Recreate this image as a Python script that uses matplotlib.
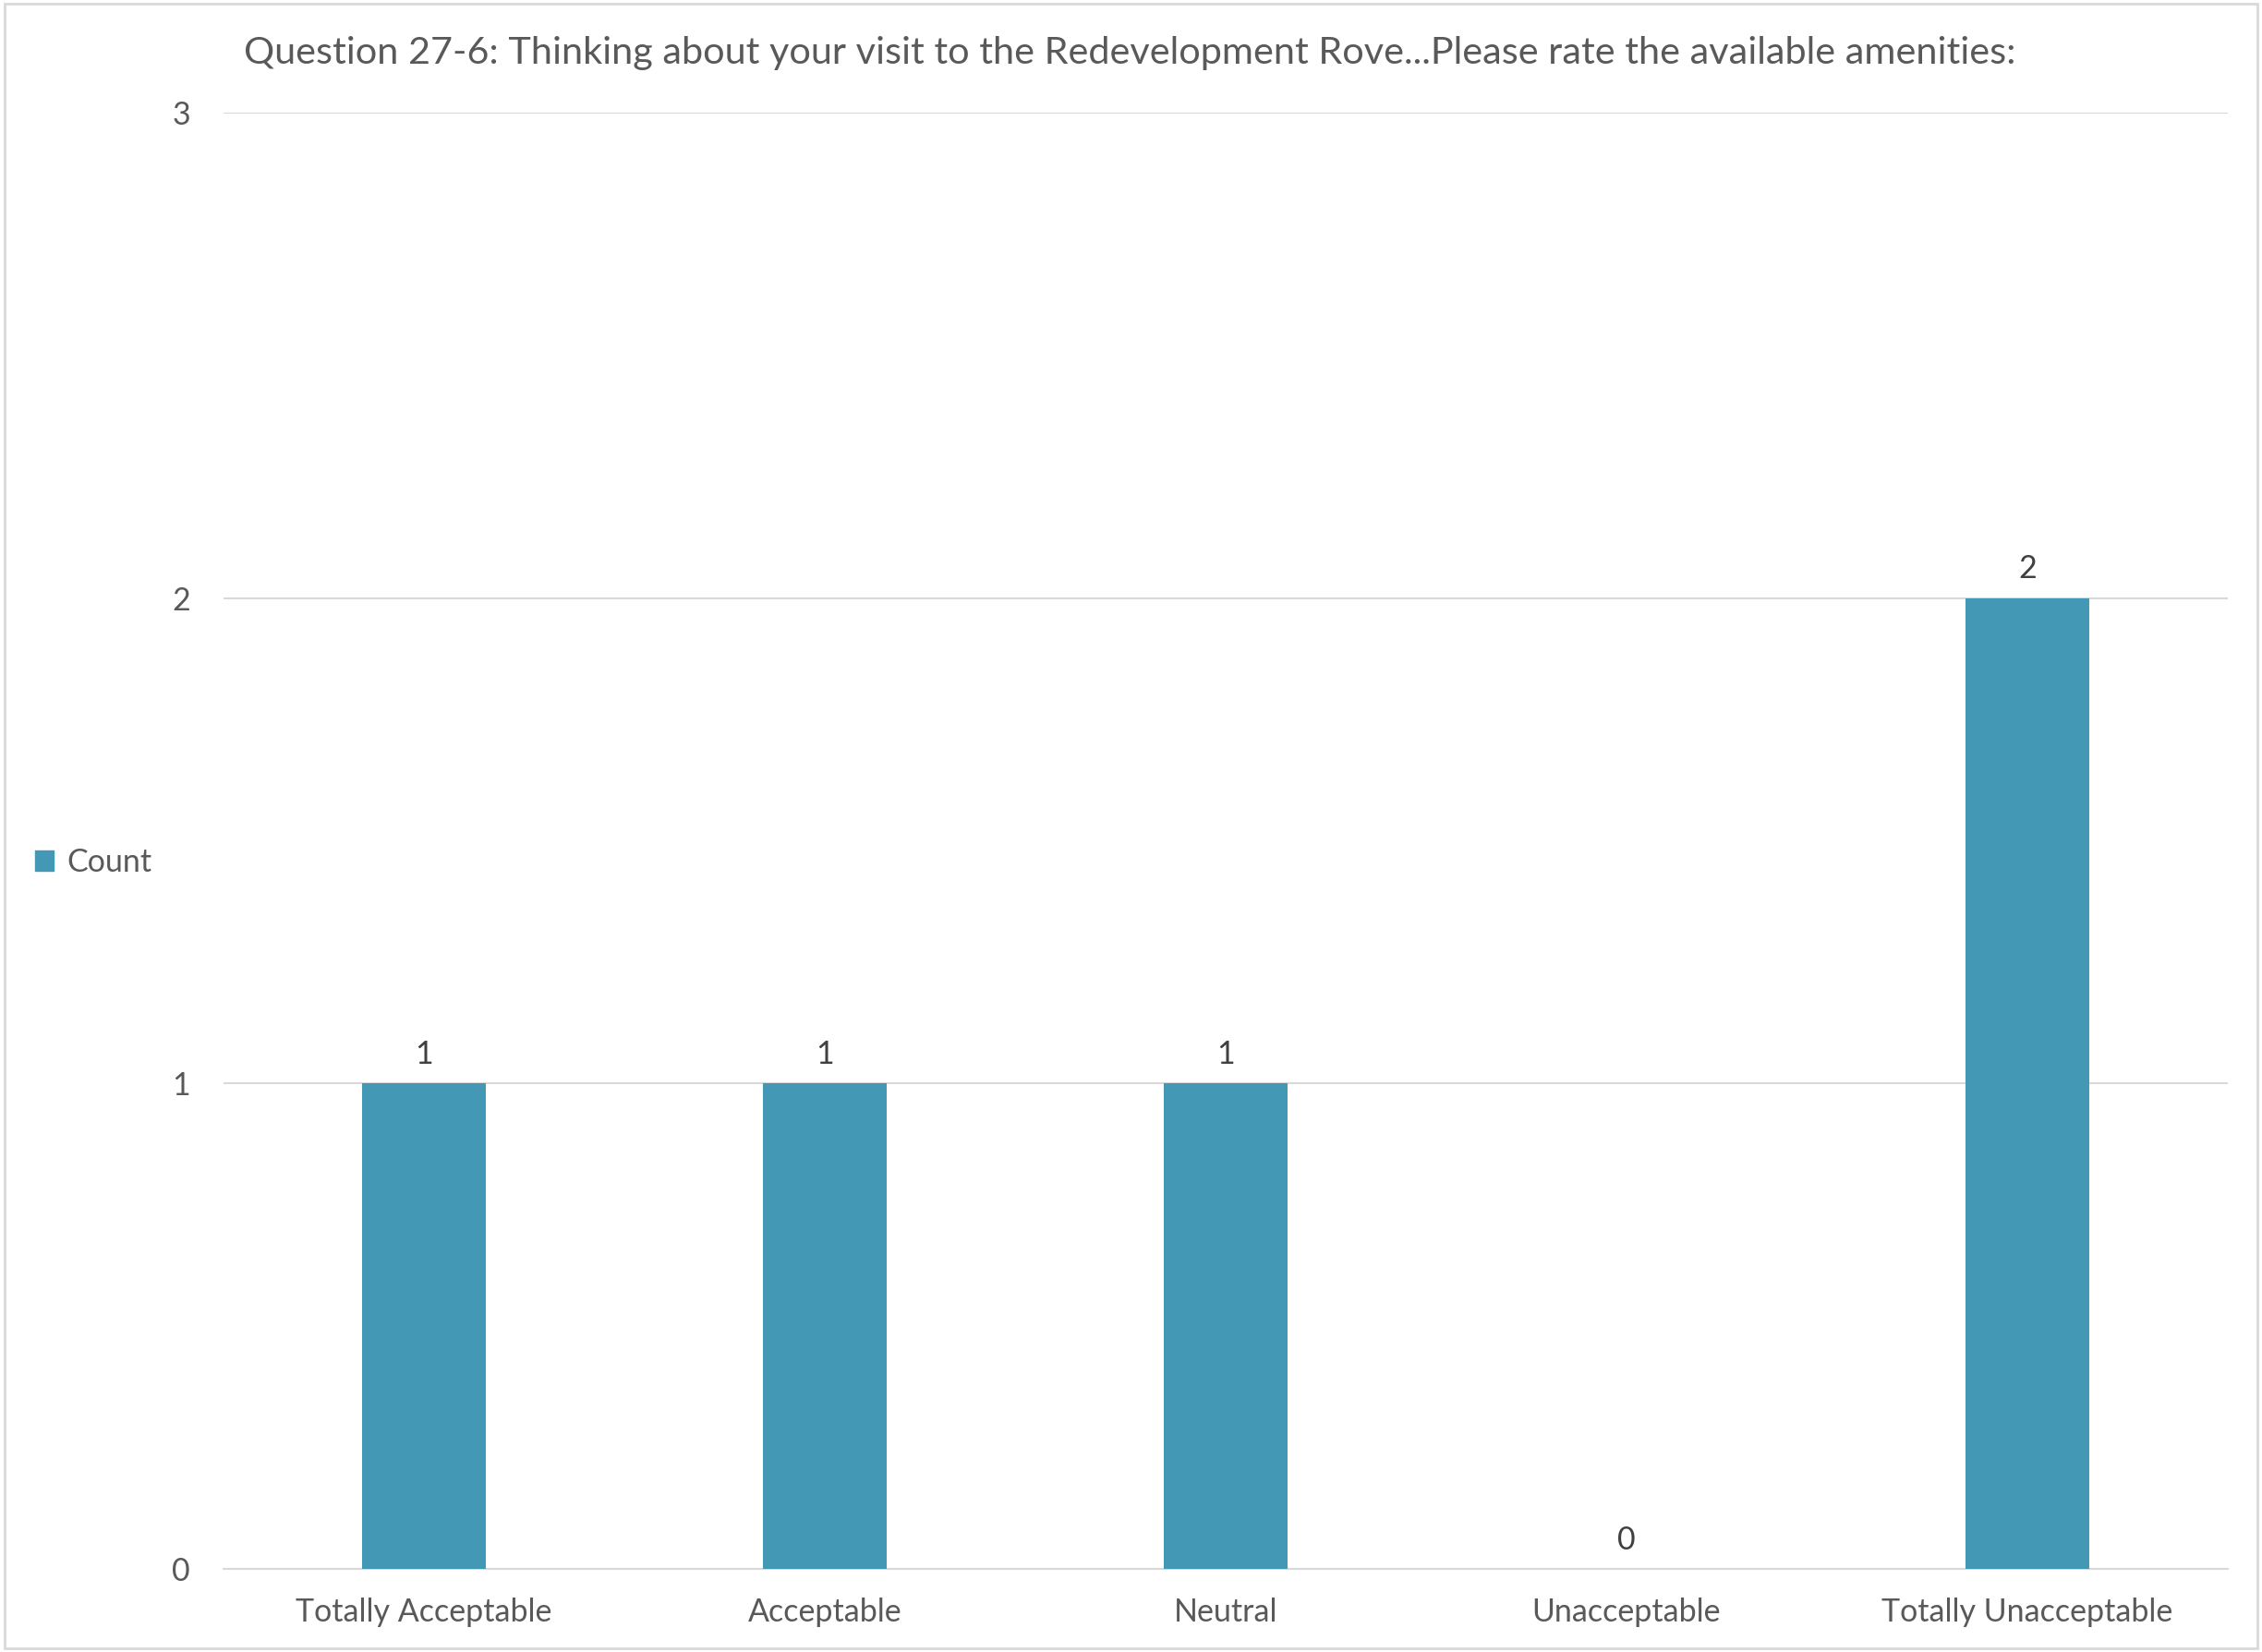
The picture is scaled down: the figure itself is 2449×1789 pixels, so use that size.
import matplotlib
matplotlib.use("Agg")
import matplotlib.pyplot as plt
from matplotlib.patches import Rectangle, Patch

# data
categories = ["Totally Acceptable", "Acceptable", "Neutral", "Unacceptable", "Totally Unacceptable"]
counts = [1, 1, 1, 0, 2]
y_ticks = [0, 1, 2, 3]
title = "Question 27-6: Thinking about your visit to the Redevelopment Rove...Please rate the available amenities:"
series_name = "Count"

bar_color = "#4398B6"
text_color = "#595959"
label_color = "#404040"
grid_color = "#D9D9D9"

plt.rcParams['font.family'] = ['Lato', 'DejaVu Sans']

fig = plt.figure(figsize=(24.49, 17.89), dpi=100)
ax = fig.add_axes([0.0988, 0.0503, 0.886, 0.8815])

x = range(len(categories))
bars = ax.bar(x, counts, width=0.31, color=bar_color, zorder=3)

ax.set_xlim(-0.5, len(categories) - 0.5)
ax.set_ylim(0, 3)
ax.set_yticks(y_ticks)
ax.set_xticks(list(x))
ax.set_xticklabels(categories)
ax.grid(axis='y', color=grid_color, linewidth=1.5, zorder=0)
ax.tick_params(axis='both', length=0, labelsize=24.5, colors=text_color)
ax.tick_params(axis='x', pad=22)
ax.tick_params(axis='y', pad=26)
for s in ['top', 'right', 'left']:
    ax.spines[s].set_visible(False)
ax.spines['bottom'].set_color(grid_color)
ax.spines['bottom'].set_linewidth(1.5)

# value labels above the bars
for i, v in enumerate(counts):
    ax.annotate(str(v), (i, v), xytext=(0, 11), textcoords='offset points',
                ha='center', va='bottom', fontsize=24.5, color=label_color)

fig.text(0.4995, 0.9676, title, ha='center', va='center', fontsize=29.8, color=text_color)

fig.legend(handles=[Patch(color=bar_color, label=series_name)], loc='center left',
           bbox_to_anchor=(0.003, 0.478), frameon=False, fontsize=24.5,
           handlelength=0.6, handleheight=0.6, handletextpad=0.4, labelcolor=text_color)

# light border round the whole chart
fig.patches.append(Rectangle((0.002, 0.002), 0.996, 0.996, transform=fig.transFigure,
                             fill=False, edgecolor=grid_color, linewidth=2))

fig.savefig("out.png", dpi=100, facecolor='white')
